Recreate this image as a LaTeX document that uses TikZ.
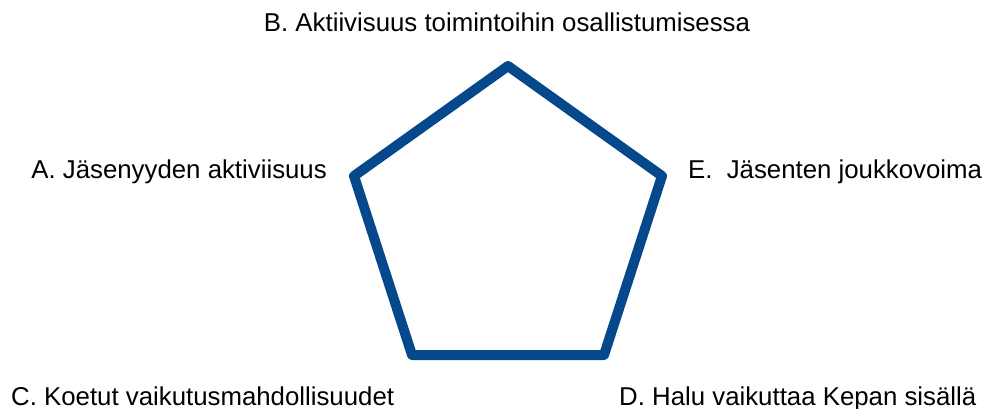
\documentclass[tikz,border=0pt]{standalone}
\usepackage{fontspec}
\setmainfont{Liberation Sans}
\definecolor{pentblue}{RGB}{5,73,140}
\tikzset{lbl/.style={inner sep=0pt, font=\fontsize{25.8}{30}\selectfont, text=black}}
\begin{document}
\begin{tikzpicture}[x=1pt,y=-1pt]
\useasboundingbox (0,0) rectangle (984,409);
\coordinate (pB) at (508,66);
\coordinate (pE) at (662,176);
\coordinate (pD) at (604,355);
\coordinate (pC) at (412,355);
\coordinate (pA) at (354,176);
\draw[pentblue, line width=10pt, line join=round] (pB) -- (pE) -- (pD) -- (pC) -- (pA) -- cycle;
\node[lbl, anchor=base] (B) at (507,32) {B. Aktiivisuus toimintoihin osallistumisessa};
\node[lbl, anchor=base east] (A) at (327,178) {A. Jäsenyyden aktiviisuus};
\node[lbl, anchor=base west] (E) at (688,178) {E.\hspace{0.55em}Jäsenten joukkovoima};
\node[lbl, anchor=base west] (C) at (11,405) {C. Koetut vaikutusmahdollisuudet};
\node[lbl, anchor=base west] (D) at (619,405) {D. Halu vaikuttaa Kepan sisällä};
\end{tikzpicture}
\end{document}
